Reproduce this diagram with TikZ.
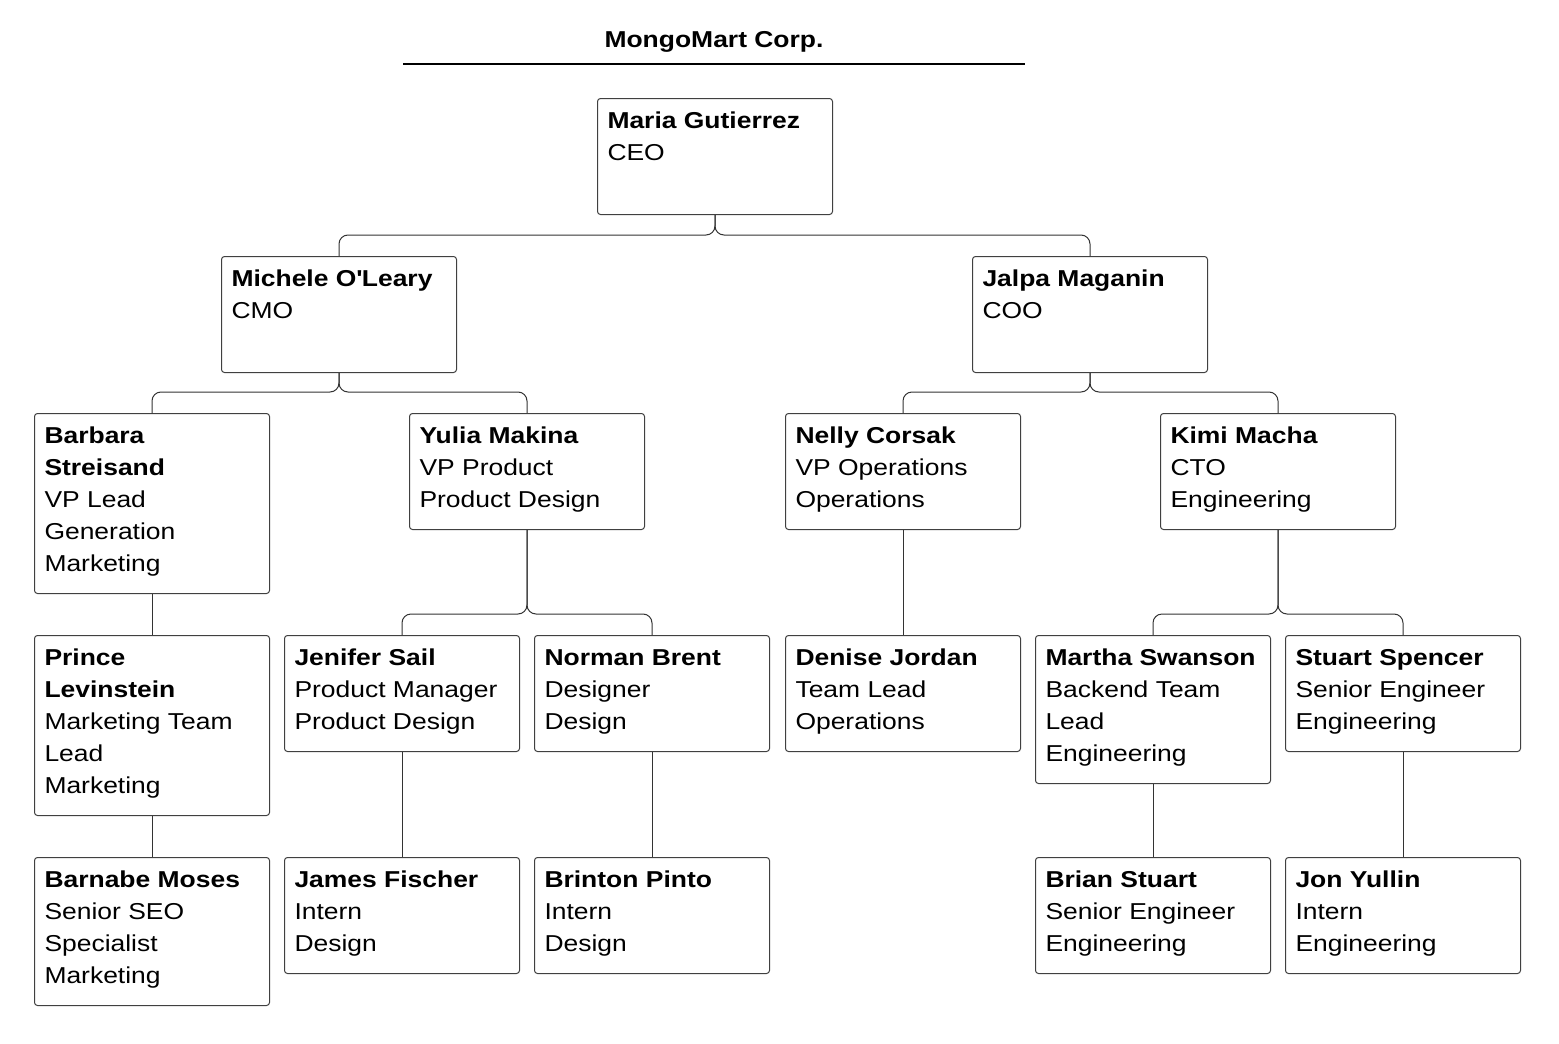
\documentclass[tikz,border=0pt]{standalone}
\usepackage{fontspec}
\setmainfont{Liberation Sans}[FakeStretch=1.15]
\newcommand\card[6]{\node[card] (#1) at (#2,#3) {\parbox[c][\dimexpr#4pt-20pt\relax][t]{215pt}{\raggedright\rule{0pt}{20pt}\textbf{#5}\\#6}};}
\begin{document}
\begin{tikzpicture}[x=1pt,y=-1pt,
  card/.style={draw=black!75, line width=1pt, rounded corners=3pt, anchor=north west, inner sep=10pt, minimum width=235pt, font=\fontsize{23}{32}\selectfont},
  conn/.style={draw=black!80, line width=1pt, rounded corners=9pt},
  titletext/.style={font=\fontsize{23}{32}\selectfont\bfseries, inner sep=0pt, anchor=base}]
\useasboundingbox[fill=white] (0,0) rectangle (1559,1044);
\node[titletext] (title) at (714,47) {MongoMart Corp.};
\coordinate (tl) at (403,64);
\coordinate (tr) at (1025,64);
\draw[line width=2pt] (tl) -- (tr);

\card{ceo}{597}{98}{116}{Maria Gutierrez}{CEO}
\card{cmo}{221}{256}{116}{Michele O\textquotesingle Leary}{CMO}
\card{coo}{972}{256}{116}{Jalpa Maganin}{COO}
\card{barbara}{34}{413}{180}{Barbara\\Streisand}{VP Lead\\Generation\\Marketing}
\card{yulia}{409}{413}{116}{Yulia Makina}{VP Product\\Product Design}
\card{nelly}{785}{413}{116}{Nelly Corsak}{VP Operations\\Operations}
\card{kimi}{1160}{413}{116}{Kimi Macha}{CTO\\Engineering}
\card{prince}{34}{635}{180}{Prince\\Levinstein}{Marketing Team\\Lead\\Marketing}
\card{jenifer}{284}{635}{116}{Jenifer Sail}{Product Manager\\Product Design}
\card{norman}{534}{635}{116}{Norman Brent}{Designer\\Design}
\card{denise}{785}{635}{116}{Denise Jordan}{Team Lead\\Operations}
\card{martha}{1035}{635}{148}{Martha Swanson}{Backend Team\\Lead\\Engineering}
\card{stuart}{1285}{635}{116}{Stuart Spencer}{Senior Engineer\\Engineering}
\card{barnabe}{34}{857}{148}{Barnabe Moses}{Senior SEO\\Specialist\\Marketing}
\card{james}{284}{857}{116}{James Fischer}{Intern\\Design}
\card{brinton}{534}{857}{116}{Brinton Pinto}{Intern\\Design}
\card{brian}{1035}{857}{116}{Brian Stuart}{Senior Engineer\\Engineering}
\card{jon}{1285}{857}{116}{Jon Yullin}{Intern\\Engineering}

\foreach \p/\c in {ceo/cmo, ceo/coo, cmo/barbara, cmo/yulia, coo/nelly, coo/kimi,
                   yulia/jenifer, yulia/norman, kimi/martha, kimi/stuart}
  \draw[conn] (\p.south) |- ([yshift=21pt]\c.north) -- (\c.north);
\foreach \p/\c in {barbara/prince, prince/barnabe, nelly/denise, jenifer/james,
                   norman/brinton, martha/brian, stuart/jon}
  \draw[conn] (\p.south) -- (\c.north);
\end{tikzpicture}
\end{document}
